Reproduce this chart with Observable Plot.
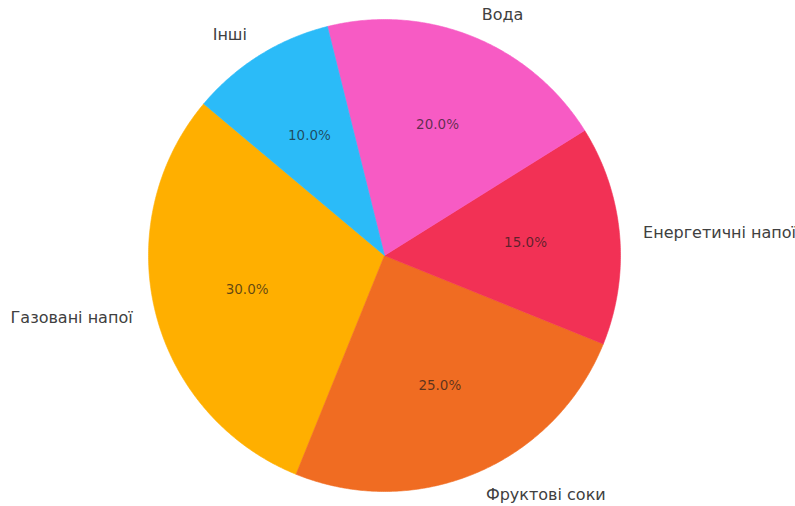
<!DOCTYPE html>
<html>
<head>
<meta charset="utf-8">
<script src="https://cdn.jsdelivr.net/npm/d3@7"></script>
<script src="https://cdn.jsdelivr.net/npm/@observablehq/plot@0.6"></script>
<style>
  html, body { margin: 0; padding: 0; background: #fff; }
  #chart svg { display: block; }
</style>
</head>
<body>
<div id="chart"></div>
<script>
const categories = ["Газовані напої", "Фруктові соки", "Енергетичні напої", "Вода", "Інші"];
const values = [30, 25, 15, 20, 10];
const colors = ["#FFAF00", "#F06C22", "#F23155", "#F75BC4", "#2BBBF8"];

const W = 795, H = 506;
const cx = 384, cy = 255, R = 236;
const startAngle = 140; // degrees, counter-clockwise

const total = d3.sum(values);
const wedges = [];
const slices = [];
let a0 = startAngle;
categories.forEach((c, i) => {
  const span = values[i] / total * 360;
  const a1 = a0 + span;
  const n = Math.max(8, Math.ceil(span * 2));
  wedges.push({cat: c, x: 0, y: 0});
  for (let k = 0; k <= n; k++) {
    const a = (a0 + (a1 - a0) * k / n) * Math.PI / 180;
    wedges.push({cat: c, x: Math.cos(a), y: Math.sin(a)});
  }
  wedges.push({cat: c, x: 0, y: 0});
  const mid = (a0 + a1) / 2 * Math.PI / 180;
  slices.push({
    cat: c,
    pct: (values[i] / total * 100).toFixed(1) + "%",
    lx: 1.1 * Math.cos(mid), ly: 1.1 * Math.sin(mid),
    px: 0.6 * Math.cos(mid), py: 0.6 * Math.sin(mid)
  });
  a0 = a1;
});

const xDomain = [-cx / R, (W - cx) / R];
const yDomain = [-(H - cy) / R, cy / R];

const font = "DejaVu Sans, sans-serif";

const chart = Plot.plot({
  width: W,
  height: H,
  margin: 0,
  x: {domain: xDomain, axis: null},
  y: {domain: yDomain, axis: null},
  color: {domain: categories, range: colors},
  style: {fontFamily: font, background: "#fff"},
  marks: [
    Plot.line(wedges, {x: "x", y: "y", z: "cat", fill: "cat", stroke: "cat", strokeWidth: 0.6, curve: "linear"}),
    Plot.text(slices.filter(d => d.lx >= 0), {x: "lx", y: "ly", text: "cat", textAnchor: "start", fontSize: 16, fill: "#404040"}),
    Plot.text(slices.filter(d => d.lx < 0), {x: "lx", y: "ly", text: "cat", textAnchor: "end", fontSize: 16, fill: "#404040"}),
    Plot.text(slices, {x: "px", y: "py", text: "pct", fontSize: 13.5, fill: "#1a1a1a", fillOpacity: 0.7})
  ]
});
document.getElementById("chart").appendChild(chart);
</script>
</body>
</html>
